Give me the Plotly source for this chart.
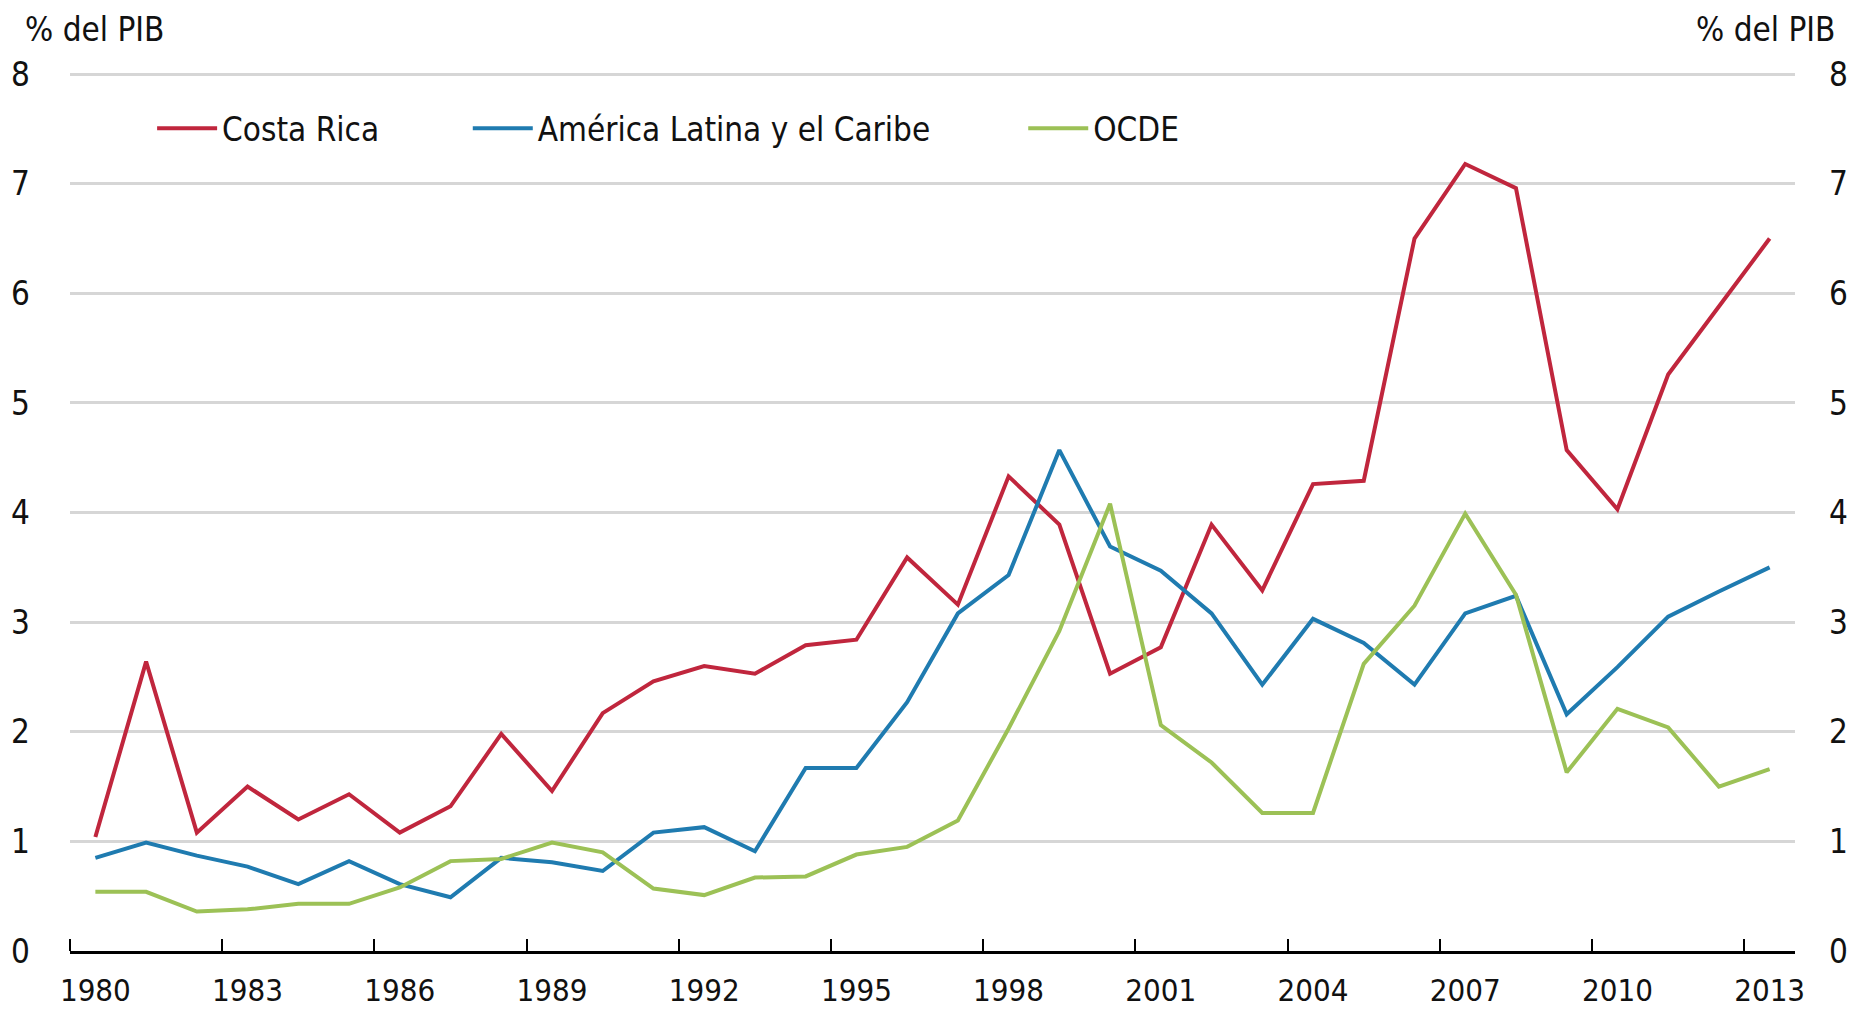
import plotly.graph_objects as go

years = list(range(1980, 2014))
costa_rica = [1.04, 2.64, 1.08, 1.50, 1.20, 1.43, 1.08, 1.32, 1.98, 1.46,
              2.17, 2.46, 2.60, 2.53, 2.79, 2.84, 3.59, 3.16, 4.33, 3.89,
              2.53, 2.77, 3.89, 3.29, 4.26, 4.29, 6.50, 7.18, 6.96, 4.57,
              4.03, 5.26, 5.88, 6.50]
alc = [0.85, 0.99, 0.87, 0.77, 0.61, 0.82, 0.61, 0.49, 0.85, 0.81,
       0.73, 1.08, 1.13, 0.91, 1.67, 1.67, 2.27, 3.08, 3.43, 4.57,
       3.69, 3.47, 3.08, 2.43, 3.03, 2.81, 2.43, 3.08, 3.24, 2.16,
       2.59, 3.05, 3.28, 3.50]
ocde = [0.54, 0.54, 0.36, 0.38, 0.43, 0.43, 0.58, 0.82, 0.84, 0.99,
        0.90, 0.57, 0.51, 0.67, 0.68, 0.88, 0.95, 1.19, 2.03, 2.92,
        4.08, 2.06, 1.72, 1.26, 1.26, 2.62, 3.15, 3.99, 3.25, 1.63,
        2.21, 2.04, 1.50, 1.66]
series_names = ["Costa Rica", "América Latina y el Caribe", "OCDE"]
series_values = [costa_rica, alc, ocde]
series_colors = ["#c0263d", "#1f7bb0", "#9cc156"]
tick_years = list(range(1980, 2014, 3))
tick_bounds = [y - 0.5 for y in tick_years]
y_ticks = list(range(0, 9))
unit_label = "% del PIB"

FONT = "Liberation Sans Narrow, DejaVu Sans Condensed, Arial Narrow, sans-serif"
FS = 33

fig = go.Figure()
legend_ids = ["legend", "legend2", "legend3"]
for name, vals, col, lg in zip(series_names, series_values, series_colors, legend_ids):
    fig.add_trace(go.Scatter(x=years, y=vals, mode="lines", name=name,
                             line=dict(color=col, width=4), legend=lg))
# invisible trace to activate right axis
fig.add_trace(go.Scatter(x=years, y=costa_rica, yaxis="y2", mode="lines",
                         line=dict(width=0), opacity=0, showlegend=False,
                         hoverinfo="skip"))

leg_common = dict(orientation="h", yanchor="middle", y=0.937, xanchor="left",
                  bgcolor="rgba(0,0,0,0)", font=dict(family=FONT, size=FS, color="#111"),
                  itemwidth=60, tracegroupgap=0)
fig.update_layout(
    width=1862, height=1014,
    margin=dict(l=70, r=67, t=73, b=63, autoexpand=False),
    paper_bgcolor="white", plot_bgcolor="white",
    font=dict(family=FONT, size=FS, color="#111"),
    showlegend=True,
    legend=dict(x=0.0476, **leg_common),
    legend2=dict(x=0.2306, **leg_common),
    legend3=dict(x=0.5526, **leg_common),
    xaxis=dict(range=[1979.5, 2013.5], tickmode="array", tickvals=tick_years,
               ticks="", showgrid=False, showline=True, linecolor="black",
               linewidth=3, zeroline=False, ticklabelstandoff=10, automargin=False,
               tickfont=dict(family=FONT, size=31, color="#111"),
               minor=dict(tickmode="array", tickvals=tick_bounds, ticks="inside",
                          ticklen=12, tickwidth=2, tickcolor="black", showgrid=False)),
    yaxis=dict(range=[0, 8.01], tickvals=y_ticks, showgrid=True, gridcolor="#d6d6d6",
               gridwidth=3, zeroline=False, showline=False, ticks="",
               ticklabelstandoff=39, automargin=False),
    yaxis2=dict(range=[0, 8.01], tickvals=y_ticks, overlaying="y", side="right",
                showgrid=False, zeroline=False, showline=False, ticks="",
                ticklabelstandoff=33, automargin=False),
)
fig.add_annotation(text=unit_label, xref="paper", yref="paper", x=-0.0274, y=1.0,
                   yshift=44, xanchor="left", yanchor="middle", showarrow=False,
                   font=dict(family=FONT, size=FS, color="#111"))
fig.add_annotation(text=unit_label, xref="paper", yref="paper", x=1.0245, y=1.0,
                   yshift=44, xanchor="right", yanchor="middle", showarrow=False,
                   font=dict(family=FONT, size=FS, color="#111"))
fig.write_html("out.html", config={"displayModeBar": False},
               post_script="document.body.style.margin='0';document.body.style.overflow='hidden';")
